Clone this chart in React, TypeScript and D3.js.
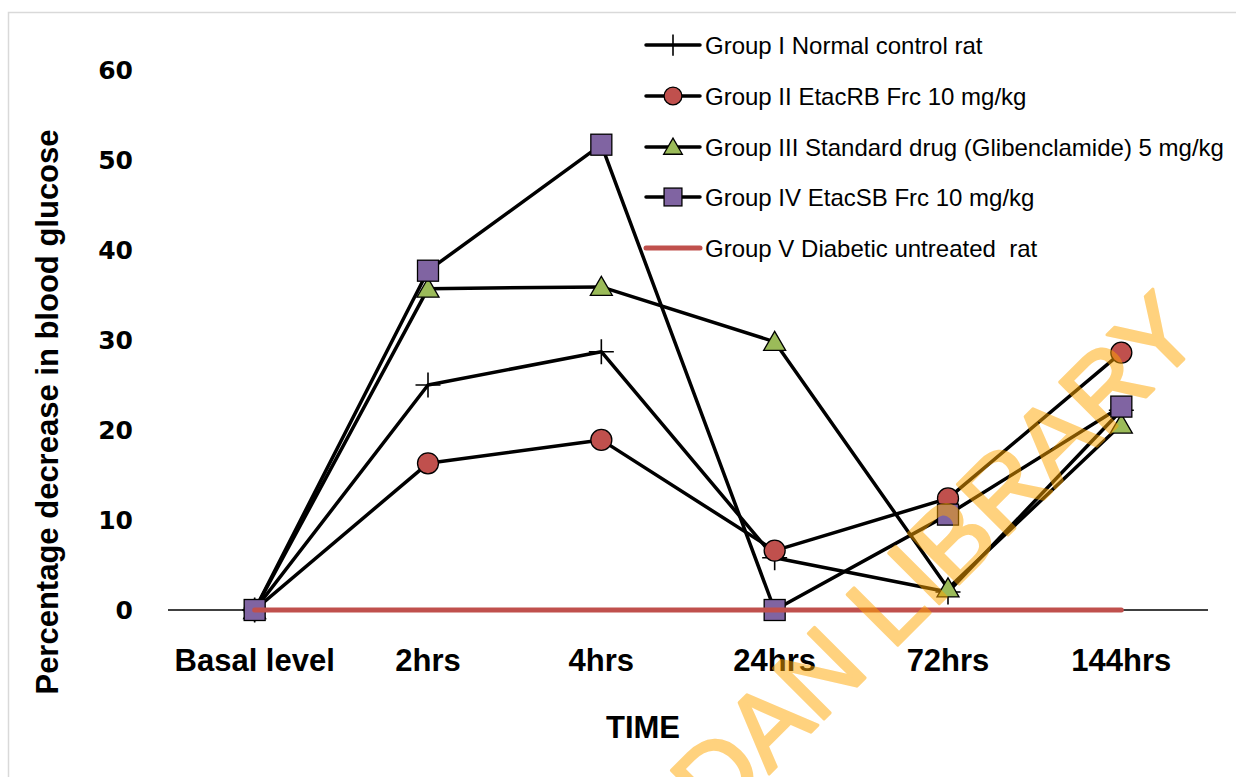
import React from "react";
import * as d3 from "d3";

const categories = ["Basal level", "2hrs", "4hrs", "24hrs", "72hrs", "144hrs"];
const groupI = [0, 25.0, 28.7, 5.8, 2.0, 22.2];
const groupII = [0, 16.3, 18.9, 6.6, 12.4, 28.6];
const groupIII = [0, 35.7, 35.9, 29.8, 2.4, 20.6];
const groupIV = [0, 37.7, 51.7, 0, 10.6, 22.6];
const groupV = [0, 0, 0, 0, 0, 0];
const yTicks = [0, 10, 20, 30, 40, 50, 60];
const seriesNames = [
  "Group I Normal control rat",
  "Group II EtacRB Frc 10 mg/kg",
  "Group III Standard drug (Glibenclamide) 5 mg/kg",
  "Group IV EtacSB Frc 10 mg/kg",
  "Group V Diabetic untreated  rat",
];

const W = 1236;
const H = 777;
const sans = "'Liberation Sans', Arial, sans-serif";

type Kind = "cross" | "circle" | "triangle" | "square" | "none";

const series: { name: string; values: number[]; kind: Kind; color: string }[] = [
  { name: seriesNames[0], values: groupI, kind: "cross", color: "#000" },
  { name: seriesNames[1], values: groupII, kind: "circle", color: "#000" },
  { name: seriesNames[2], values: groupIII, kind: "triangle", color: "#000" },
  { name: seriesNames[3], values: groupIV, kind: "square", color: "#000" },
  { name: seriesNames[4], values: groupV, kind: "none", color: "#C0504D" },
];

function Marker({ kind, x, y, s = 1 }: { kind: Kind; x: number; y: number; s?: number }) {
  if (kind === "cross") {
    const a = 12.5 * s;
    return (
      <path
        d={`M${x - a},${y}H${x + a}M${x},${y - a}V${y + a}`}
        stroke="#000"
        strokeWidth={1.6}
        fill="none"
      />
    );
  }
  if (kind === "circle")
    return <circle cx={x} cy={y} r={10.5 * s} fill="#C0504D" stroke="#000" strokeWidth={1.3} />;
  if (kind === "triangle") {
    const p = [
      [x, y - 10.5 * s],
      [x + 11 * s, y + 8.5 * s],
      [x - 11 * s, y + 8.5 * s],
    ];
    return (
      <path d={`M${p[0]}L${p[1]}L${p[2]}Z`} fill="#9BBB59" stroke="#000" strokeWidth={1.3} />
    );
  }
  if (kind === "square") {
    const h = 10.5 * s;
    return (
      <rect x={x - h} y={y - h} width={2 * h} height={2 * h} fill="#8064A2" stroke="#000" strokeWidth={1.3} />
    );
  }
  return null;
}

export default function App() {
  const x = d3.scalePoint<string>().domain(categories).range([168, 1208]).padding(0.5);
  const y = d3.scaleLinear().domain([0, 60]).range([610, 70]);

  const line = d3
    .line<number>()
    .x((_, i) => x(categories[i])!)
    .y(d => y(d));

  const legendY = [45, 96, 147, 197, 248];

  return (
    <svg
      width={W}
      height={H}
      style={{ position: "absolute", left: 0, top: 0, background: "#fff" }}
    >
      <rect x={8.5} y={12.5} width={W + 20} height={H + 20} fill="#fff" stroke="#D9D9D9" strokeWidth={1.5} />

      {/* y tick labels */}
      {yTicks.map(t => (
        <text
          key={t}
          x={133}
          y={y(t) + 9}
          textAnchor="end"
          fontFamily="'DejaVu Sans', Verdana, sans-serif"
          fontWeight="bold"
          fontSize={25}
        >
          {t}
        </text>
      ))}

      {/* x axis */}
      <line x1={168} x2={1208} y1={y(0)} y2={y(0)} stroke="#000" strokeWidth={1.3} />
      {categories.map(c => (
        <text key={c} x={x(c)} y={671} textAnchor="middle" fontFamily={sans} fontWeight="bold" fontSize={31}>
          {c}
        </text>
      ))}

      <text x={643} y={738} textAnchor="middle" fontFamily={sans} fontWeight="bold" fontSize={31}>
        TIME
      </text>
      <text
        transform="translate(58,412) rotate(-90)"
        textAnchor="middle"
        fontFamily={sans}
        fontWeight="bold"
        fontSize={31}
      >
        Percentage decrease in blood glucose
      </text>

      {/* series */}
      {series.map(s => (
        <g key={s.name}>
          <path
            d={line(s.values)!}
            fill="none"
            stroke={s.color}
            strokeWidth={s.kind === "none" ? 5 : 3.5}
            strokeLinejoin="round"
            strokeLinecap="round"
          />
          {s.values.map((v, i) => (
            <Marker key={i} kind={s.kind} x={x(categories[i])!} y={y(v)} />
          ))}
        </g>
      ))}

      {/* legend */}
      {series.map((s, i) => (
        <g key={"lg" + i}>
          <line
            x1={646}
            x2={700}
            y1={legendY[i]}
            y2={legendY[i]}
            stroke={s.color}
            strokeWidth={s.kind === "none" ? 5 : 3.5}
            strokeLinecap="round"
          />
          <Marker kind={s.kind} x={673} y={legendY[i]} s={0.85} />
          <text
            x={705}
            y={legendY[i] + 8.5}
            fontFamily={sans}
            fontSize={24}
            style={{ whiteSpace: "pre" }}
          >
            {s.name}
          </text>
        </g>
      ))}

      {/* watermark */}
      <g opacity={0.5}>
        <text
          transform="translate(1205,338) rotate(-45)"
          textAnchor="end"
          fontFamily={sans}
          fontSize={104}
          fill="#FFA600"
          stroke="#FFA600"
          strokeWidth={3}
          strokeLinejoin="round"
        >
          UNIVERSITY OF IBADAN LIBRARY
        </text>
      </g>
    </svg>
  );
}
